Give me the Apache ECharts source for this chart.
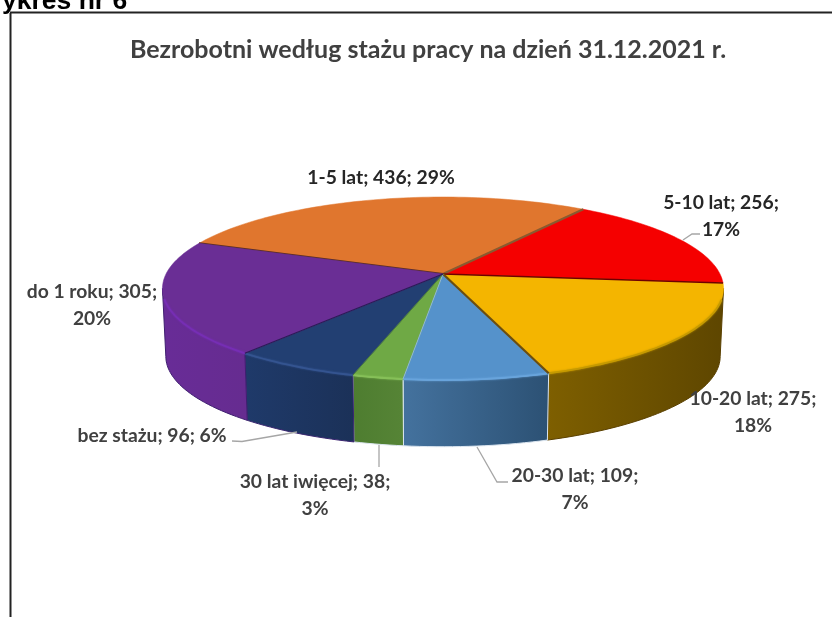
<!DOCTYPE html>
<html>
<head>
<meta charset="utf-8">
<style>html,body{margin:0;padding:0;background:#fff}#c{width:832px;height:617px}</style>
<script src="https://cdn.jsdelivr.net/npm/echarts@6/dist/echarts.min.js"></script>
</head>
<body>
<div id="c"></div>
<script>
// ---- data ----
const categories = ['1-5 lat', '5-10 lat', '10-20 lat', '20-30 lat', '30 lat iwięcej', 'bez stażu', 'do 1 roku'];
const values = [436, 256, 275, 109, 38, 96, 305];
const chartTitle = 'Bezrobotni według stażu pracy na dzień 31.12.2021 r.';
const heading = 'ykres nr 6';
// ---- styles ----
const topColors = ['#E0762E', '#F50000', '#F4B500', '#5592CB', '#6FA945', '#223F72', '#6A2E95'];
const wallLeft = ['#B05A20', '#B00000', '#7E5F00', '#44729E', '#4E7D30', '#1F3A6A', '#682C97'];
const wallRight = ['#B05A20', '#B00000', '#5E4600', '#2C5174', '#568436', '#1B3158', '#662C90'];
const rimColors = [null, null, '#C69A00', '#68A4DC', '#86C058', '#345490', '#762EB4'];
const seamColors = ['#5A2E1E', '#8A5A30', '#6E0000', '#6B4E10', '#8FB6D8', '#4E7F3A', '#2A1A55'];
const seamWidths = [2, 2.2, 1.4, 2.2, 1, 1, 1.2];
const wallSeams = ['#8A4A1A', '#800000', '#5A4000', '#DCE6F0', '#DCE6F0', '#3A2570', '#3F1F70'];
const labelBreak = [false, true, true, true, true, false, true];
const labelX = [381, 721, 753, 575, 315, 152, 92];
const labelY = [178, 216, 412, 489, 495, 436, 305];
const labelFill = ['#262626', '#262626', '#404040', '#404040', '#404040', '#404040', '#404040'];
const leaders = [null, [[683, 240], [692, 234], [700, 234]], null,
  [[477, 447], [497, 482], [508, 482]], [[379, 445], [379, 467]],
  [[232, 441], [242, 441.5], [297, 432]], null];

// ---- pie geometry (perspective projection of a circle) ----
const apexX = 443, apexY = 274, radX = 277, radY = 89.2, persp = 0.1585, depth = 68, baseScale = 0.988;
const firstAngle = 291.3;
const silhouette = Math.acos(-persp) * 180 / Math.PI;
const total = values.reduce((a, b) => a + b, 0);
const starts = [];
values.reduce((acc, v, i) => { starts[i] = acc; return acc + v / total * 360; }, firstAngle);
function norm(a) { return ((a % 360) + 360) % 360; }
function project(deg, isBase) {
  const t = deg * Math.PI / 180, u = Math.sin(t), v = -Math.cos(t), d = 1 - persp * v;
  const s = isBase ? baseScale : 1;
  return [apexX + s * radX * u / d, apexY + (isBase ? depth : 0) + s * radY * v / d];
}
function arc(a0, a1, isBase) {
  const pts = [], n = Math.max(4, Math.ceil(Math.abs(a1 - a0) / 1.5));
  for (let k = 0; k <= n; k++) pts.push(project(a0 + (a1 - a0) * k / n, isBase));
  return pts;
}
function span(i) { const a = norm(starts[i]); return [a, a + values[i] / total * 360]; }
function frontSpan(i) {
  const s = span(i), a0 = Math.max(s[0], silhouette), a1 = Math.min(s[1], 360 - silhouette);
  return a1 > a0 ? [a0, a1] : null;
}

function renderWall(params, api) {
  const i = api.value(0), s = frontSpan(i);
  if (!s) return null;
  const top = arc(s[0], s[1], false), base = arc(s[0], s[1], true).reverse();
  const xs = top.concat(base).map(p => p[0]);
  const x0 = Math.min.apply(null, xs), x1 = Math.max.apply(null, xs);
  return { type: 'polygon', shape: { points: top.concat(base) },
    style: { fill: new echarts.graphic.LinearGradient(x0, 0, x1, 0,
        [{ offset: 0, color: wallLeft[i] }, { offset: 1, color: wallRight[i] }], true),
      stroke: wallSeams[i], lineWidth: 1 } };
}
function renderFace(params, api) {
  const i = api.value(0), s = span(i), edge = arc(s[0], s[1], false);
  const apex = [apexX, apexY];
  const children = [{ type: 'polygon', shape: { points: [apex].concat(edge) },
    style: { fill: topColors[i], stroke: topColors[i], lineWidth: 0.5 } }];
  if (rimColors[i]) children.push({ type: 'polyline',
    shape: { points: edge.filter(p => p[1] > apexY + 24) },
    style: { fill: null, stroke: rimColors[i], lineWidth: 1.8, shadowBlur: 2, shadowColor: rimColors[i] } });
  children.push({ type: 'line', shape: { x1: apex[0], y1: apex[1], x2: edge[0][0], y2: edge[0][1] },
    style: { stroke: seamColors[i], lineWidth: seamWidths[i] } });
  return { type: 'group', children: children };
}
function renderLabel(params, api) {
  const i = api.value(0), children = [];
  const pct = Math.round(values[i] / total * 100);
  const sep = labelBreak[i] ? ';\n' : '; ';
  if (leaders[i]) children.push({ type: 'polyline', shape: { points: leaders[i] },
    style: { fill: null, stroke: '#A6A6A6', lineWidth: 1.3 } });
  children.push({ type: 'text', style: {
    text: categories[i] + '; ' + values[i] + sep + pct + '%',
    x: labelX[i], y: labelY[i], align: 'center', verticalAlign: 'middle',
    fill: labelFill[i], font: 'bold 19.3px Lato', lineHeight: 27 } });
  return { type: 'group', children: children };
}

const chart = echarts.init(document.getElementById('c'), null, { renderer: 'canvas' });
chart.setOption({
  animation: false,
  backgroundColor: '#fff',
  title: { text: chartTitle, left: 423, top: 32, textAlign: 'center',
    textStyle: { fontFamily: 'Lato', fontWeight: 'bold', fontSize: 25, color: '#404040' } },
  graphic: [
    { type: 'line', shape: { x1: 10.5, y1: 13, x2: 10.5, y2: 617 }, style: { stroke: '#222', lineWidth: 2 } },
    { type: 'line', shape: { x1: 10, y1: 12.5, x2: 832, y2: 12.5 }, style: { stroke: '#222', lineWidth: 2 } },
    { type: 'text', style: { text: heading, x: 2, y: -12,
        font: 'bold 26.5px "Liberation Sans"', fill: '#000' } }
  ],
  series: [
    { type: 'custom', coordinateSystem: 'none', renderItem: renderWall, silent: true,
      data: categories.map((_, i) => [i]) },
    { type: 'custom', coordinateSystem: 'none', renderItem: renderFace, silent: true,
      data: categories.map((_, i) => [i]) },
    { type: 'custom', coordinateSystem: 'none', renderItem: renderLabel, silent: true,
      data: categories.map((_, i) => [i]) }
  ]
});
</script>
</body>
</html>
